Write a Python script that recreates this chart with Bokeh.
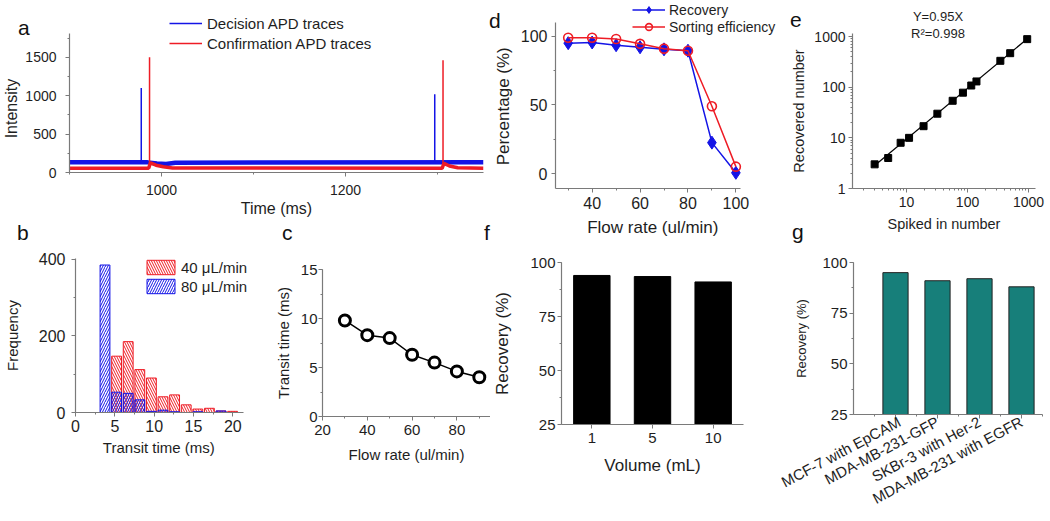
from bokeh.plotting import figure
from bokeh.layouts import row, column
from bokeh.models import (Range1d, FactorRange, SingleIntervalTicker, FixedTicker,
                          Legend, LegendItem, LogTickFormatter, Div)
from bokeh.embed import file_html
from bokeh.resources import INLINE

FONT = "Liberation Sans"
BLUE = "#1414e6"
RED = "#ee1c25"
TEAL = "#177f7a"
AX = "#7a7a7a"
TXT = "#1e1e1e"
NB = "\u00a0"

# ---------------- data ----------------
a_blue_base_t = [900, 985, 995, 1005, 1015, 1350]
a_blue_base_i = [132, 132, 118, 110, 128, 132]
a_blue_level = 132
a_blue_spike_t = [978, 1297]
a_blue_spike_i = [1100, 1020]
a_red_base_t = [900, 986, 988, 994, 1002, 1012, 1305, 1307, 1313, 1322, 1350]
a_red_base_i = [55, 55, 125, 95, 75, 60, 55, 118, 85, 62, 55]
a_red_level = 55
a_red_spike_t = [987, 1306]
a_red_spike_i = [1500, 1460]

b_bins = [3.75, 5.225, 6.7, 8.175, 9.65, 11.125, 12.6, 14.075, 15.55, 17.025, 18.5, 19.975]
b_freq_40 = [0, 147, 185, 112, 90, 41, 46, 20, 9, 11, 4, 3]
b_freq_80 = [385, 53, 50, 33, 3, 6, 2, 0, 2, 0, 4, 0]

c_flow = [30, 40, 50, 60, 70, 80, 90]
c_transit = [9.8, 8.3, 8.0, 6.3, 5.5, 4.6, 4.0]

d_flow = [30, 40, 50, 60, 70, 80, 90, 100]
d_recovery = [95, 95.5, 93.5, 92, 90.5, 89.5, 22.5, 0.5]
d_sorting = [99, 99, 98, 94.5, 91, 89.5, 49, 5]

e_spiked = [3, 5, 8, 11, 19, 32, 57, 84, 115, 140, 345, 500, 950]
e_recovered = [3, 4, 8, 10, 17, 30, 54, 78, 108, 130, 332, 470, 890]
e_fit_slope = 0.95
e_fit_x = [3, 1000]
e_notes = ["Y=0.95X", "R\u00b2=0.998"]

f_volume = ["1", "5", "10"]
f_recovery = [94, 93.5, 91]

g_cells = ["MCF-7 with EpCAM", "MDA-MB-231-GFP", "SKBr-3 with Her-2", "MDA-MB-231 with EGFR"]
g_recovery = [95, 91, 92, 88]

panel_letters = ["a", "b", "c", "d", "e", "f", "g"]


# ---------------- helpers ----------------
def make_fig(w, h, l, r, t, b, xr, yr, **kw):
    p = figure(width=w, height=h, min_border_left=l, min_border_right=r,
               min_border_top=t, min_border_bottom=b, x_range=xr, y_range=yr,
               toolbar_location=None, output_backend="svg", **kw)
    try:
        p.frame_align = False   # keep each panel's own frame position
    except Exception:
        pass
    p.outline_line_color = None
    p.grid.visible = False
    p.background_fill_color = "white"
    p.border_fill_color = "white"
    return p


def style_axis(ax, title, tick_px, title_px, lab_so, title_so):
    ax.axis_label = title
    ax.axis_label_text_font = FONT
    ax.axis_label_text_font_size = f"{title_px}px"
    ax.axis_label_text_font_style = "normal"
    ax.axis_label_text_color = TXT
    ax.axis_label_standoff = title_so
    ax.major_label_text_font = FONT
    ax.major_label_text_font_size = f"{tick_px}px"
    ax.major_label_text_color = TXT
    ax.major_label_standoff = lab_so
    ax.axis_line_color = AX
    ax.axis_line_width = 1.2
    ax.major_tick_line_color = AX
    ax.minor_tick_line_color = AX
    ax.major_tick_out = 4
    ax.major_tick_in = 0
    ax.minor_tick_out = 2
    ax.minor_tick_in = 0


def style_legend(lg, font_px, row_h, gw, standoff, spacing=0):
    lg.label_text_font = FONT
    lg.label_text_font_size = f"{font_px}px"
    lg.label_text_color = TXT
    lg.glyph_width = gw
    lg.glyph_height = row_h
    lg.label_height = row_h
    lg.label_standoff = standoff
    lg.spacing = spacing
    lg.padding = 0
    lg.margin = 0
    lg.border_line_alpha = 0
    lg.background_fill_alpha = 0


def float_text(txt, left, top, size, color="#111111", width=None, align="left"):
    w = f"width:{width}px;text-align:{align};" if width else ""
    html = (f'<div style="font-family:\'{FONT}\';font-size:{size}px;line-height:1;'
            f'color:{color};white-space:nowrap;{w}">{txt}</div>')
    return Div(text=html, styles={"position": "absolute", "left": f"{left}px",
                                  "top": f"{top}px", "margin": "0", "z-index": "5"})


# ---------------- panel a ----------------  frame x 67..483, y 13..172 (axis from 33)
pa = make_fig(490, 222, 67, 7, 13, 50, Range1d(900, 1350), Range1d(0, 2070))
pa.line(a_blue_base_t, a_blue_base_i, line_color=BLUE, line_width=4.5)
bs = pa.segment(x0=a_blue_spike_t, y0=[a_blue_level] * len(a_blue_spike_t),
                x1=a_blue_spike_t, y1=a_blue_spike_i, line_color=BLUE, line_width=1.5)
pa.line(a_red_base_t, a_red_base_i, line_color=RED, line_width=3.5)
rs = pa.segment(x0=a_red_spike_t, y0=[a_red_level] * len(a_red_spike_t),
                x1=a_red_spike_t, y1=a_red_spike_i, line_color=RED, line_width=1.5)
pa.xaxis.ticker = SingleIntervalTicker(interval=200, num_minor_ticks=2)
pa.yaxis.ticker = SingleIntervalTicker(interval=500, num_minor_ticks=2)
pa.yaxis.bounds = (0, 1810)
style_axis(pa.xaxis[0], "Time (ms)", 14, 16, 8, 2)
style_axis(pa.yaxis[0], "Intensity" + NB * 7, 14, 16, 9, 2)
lga = Legend(items=[LegendItem(label="Decision APD traces", renderers=[bs]),
                    LegendItem(label="Confirmation APD traces", renderers=[rs])],
             location=(100, 119))
style_legend(lga, 15, 20, 33, 5)
pa.add_layout(lga)

# ---------------- panel b ----------------  frame x 72..250 (axis to 243), y 258..412
pb = make_fig(250, 299, 72, 0, 36, 109, Range1d(0, 22.25), Range1d(0, 402))
r40 = pb.vbar(x=b_bins, top=b_freq_40, width=1.25, fill_alpha=0, line_color=RED, line_width=1,
              hatch_pattern="\\", hatch_color=RED, hatch_scale=5, hatch_weight=1)
r80 = pb.vbar(x=b_bins, top=b_freq_80, width=1.25, fill_alpha=0, line_color=BLUE, line_width=1,
              hatch_pattern="/", hatch_color=BLUE, hatch_scale=5, hatch_weight=1)
pb.xaxis.ticker = SingleIntervalTicker(interval=5, num_minor_ticks=2)
pb.yaxis.ticker = SingleIntervalTicker(interval=200, num_minor_ticks=2)
pb.xaxis.bounds = (0, 21.4)
style_axis(pb.xaxis[0], "Transit time (ms)" + NB * 2, 16, 15, 3, 4)
style_axis(pb.yaxis[0], "Frequency", 16, 15, 6, 15)
lgb = Legend(items=[LegendItem(label="40 \u03bcL/min", renderers=[r40]),
                    LegendItem(label="80 \u03bcL/min", renderers=[r80])],
             location=(68, 117))
style_legend(lgb, 15, 18, 35, 3, 1)
pb.add_layout(lgb)

# ---------------- panel c ----------------  frame x 322..490, y 269..416
pc = make_fig(240, 299, 72, 0, 47, 105, Range1d(20, 95), Range1d(0, 15))
pc.line(c_flow, c_transit, line_color="black", line_width=1.5)
pc.scatter(c_flow, c_transit, marker="circle", size=11, line_color="black", line_width=3,
           fill_color="white")
pc.xaxis.ticker = SingleIntervalTicker(interval=20, num_minor_ticks=2)
pc.yaxis.ticker = SingleIntervalTicker(interval=5, num_minor_ticks=2)
style_axis(pc.xaxis[0], "Flow rate (ul/min)", 15, 15, 4, 8)
style_axis(pc.yaxis[0], "Transit time (ms)", 15, 15, 1, 6)

# ---------------- panel d ----------------  frame x 553..778 (axis to 740), y 0..188 (axis from 22)
pd_ = make_fig(288, 240, 63, 0, 0, 52, Range1d(24.7, 117.8), Range1d(-10.93, 126.1))
dl1 = pd_.line(d_flow, d_recovery, line_color=BLUE, line_width=1.5)
dm1 = pd_.scatter(d_flow, d_recovery, marker="diamond", size=13, line_color=BLUE, fill_color=BLUE)
dl2 = pd_.line(d_flow, d_sorting, line_color=RED, line_width=1.5)
dm2 = pd_.scatter(d_flow, d_sorting, marker="circle", size=9, line_color=RED, line_width=1.6,
                  fill_color="white", fill_alpha=0)
pd_.xaxis.ticker = SingleIntervalTicker(interval=20, num_minor_ticks=2)
pd_.yaxis.ticker = SingleIntervalTicker(interval=50, num_minor_ticks=2)
pd_.xaxis.bounds = (24.8, 102)
pd_.yaxis.bounds = (-11, 110)
style_axis(pd_.xaxis[0], "Flow rate (ul/min)" + NB * 6, 16, 17, 4, 6)
style_axis(pd_.yaxis[0], "Percentage (%)" + NB * 5, 16, 17, 4, 5)
lgd = Legend(items=[LegendItem(label="Recovery", renderers=[dl1, dm1]),
                    LegendItem(label="Sorting efficiency", renderers=[dl2, dm2])],
             location=(77, 153))
style_legend(lgd, 14, 17, 33, 4)
pd_.add_layout(lgd)

# ---------------- panel e ----------------  frame x 852..1035, y 33..188
pe = make_fig(272, 248, 74, 15, 33, 60, Range1d(1.3, 1300), Range1d(1, 1150),
              x_axis_type="log", y_axis_type="log")
pe.line(e_fit_x, [e_fit_slope * v for v in e_fit_x], line_color="black", line_width=1.2)
pe.scatter(e_spiked, e_recovered, marker="square", size=7, color="black")
pe.xaxis.formatter = LogTickFormatter(min_exponent=5)
pe.yaxis.formatter = LogTickFormatter(min_exponent=5)
style_axis(pe.xaxis[0], "Spiked in number", 14, 14.5, 4, 6)
style_axis(pe.yaxis[0], "Recovered number", 14, 14.5, 3, 4)

# ---------------- panel f ----------------  frame x 557..743, y 262..424
pf = make_fig(288, 281, 67, 35, 22, 97, FactorRange(*f_volume, range_padding=0), Range1d(25, 100))
pf.vbar(x=f_volume, top=f_recovery, bottom=0, width=0.6, fill_color="black", line_color="black")
pf.yaxis.ticker = SingleIntervalTicker(interval=25, num_minor_ticks=2)
style_axis(pf.xaxis[0], "Volume (mL)", 15, 17, 4, 10)
style_axis(pf.yaxis[0], "Recovery (%)", 15, 17, 2, 15)

# ---------------- panel g ----------------  frame x 853..1042, y 262..414
g_pos = list(range(1, len(g_cells) + 1))
pg = make_fig(272, 273, 75, 8, 14, 107, Range1d(0, len(g_cells) + 0.5), Range1d(25, 100))
pg.vbar(x=g_pos, top=g_recovery, bottom=0, width=0.6, fill_color=TEAL, line_color="#222222",
        line_width=1)
pg.xaxis.ticker = FixedTicker(ticks=g_pos, minor_ticks=[v - 0.5 for v in g_pos] + [g_pos[-1] + 0.5])
pg.xaxis.major_label_overrides = {v: c for v, c in zip(g_pos, g_cells)}
pg.xaxis.major_label_orientation = 0.49
pg.yaxis.ticker = SingleIntervalTicker(interval=25, num_minor_ticks=2)
style_axis(pg.xaxis[0], "", 15, 13, 2, 0)
style_axis(pg.yaxis[0], "Recovery (%)", 15, 13, 2, 10)

# ---------------- floating texts (panel letters, fit annotation) ----------------
letter_pos = [(18, 17), (17, 222), (282, 222), (489, 10), (790, 9), (484, 222), (792, 221)]
floats = [float_text(t, x, y, 21) for t, (x, y) in zip(panel_letters, letter_pos)]
floats += [float_text(t, 888, y, 13, color=TXT, width=100, align="center")
           for t, y in zip(e_notes, [9, 26])]

main = row(column(pa, row(pb, pc)), column(pd_, pf), column(pe, pg))
layout = column(main, *floats)

open("out.html", "w").write(file_html(layout, INLINE))
